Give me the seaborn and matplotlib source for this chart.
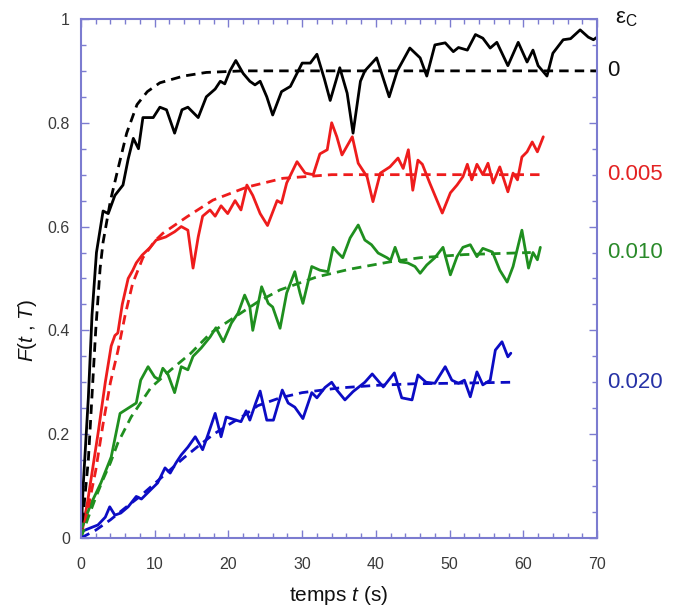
import numpy as np
import pandas as pd
import matplotlib
matplotlib.use("Agg")
import matplotlib.pyplot as plt
import seaborn as sns
from matplotlib.ticker import MultipleLocator

# ---------------- data ----------------
black_solid = [(0,0),(0.3,0.1),(1.0,0.27),(1.5,0.43),(2.1,0.55),(3.0,0.63),(3.7,0.625),(4.6,0.66),(5.7,0.68),
               (6.4,0.73),(7.1,0.77),(7.8,0.75),(8.4,0.81),(9.8,0.81),(10.7,0.83),(11.6,0.825),(12.7,0.78),
               (13.7,0.825),(14.5,0.83),(15.9,0.81),(17.0,0.85),(18.2,0.865),(18.9,0.88),(19.5,0.875),(20.2,0.90),
               (21.0,0.92),(22.0,0.895),(22.9,0.88),(23.6,0.873),(24.3,0.88),(25.2,0.85),(26.0,0.815),(27.2,0.86),
               (28.4,0.87),(30.0,0.915),(31.1,0.915),(32.0,0.932),(33.0,0.885),(33.8,0.843),(35.1,0.906),
               (36.1,0.857),(36.9,0.78),(37.9,0.88),(38.5,0.90),(40.1,0.925),(41.8,0.85),(42.9,0.90),(44.6,0.944),
               (46.0,0.925),(46.9,0.89),(48.0,0.95),(49.4,0.954),(50.5,0.937),(51.2,0.945),(52.4,0.94),(53.5,0.97),
               (54.5,0.963),(55.5,0.944),(56.4,0.955),(57.9,0.91),(59.3,0.955),(60.5,0.917),(61.3,0.94),(62.0,0.91),
               (63.2,0.89),(64.0,0.934),(65.4,0.96),(66.4,0.962),(67.7,0.979),(68.8,0.965),(69.5,0.96),(70.0,0.965)]
red_solid = [(0,0),(0.9,0.07),(2.3,0.2),(3.3,0.3),(4.1,0.37),(4.6,0.39),(5.0,0.395),(5.6,0.45),(6.4,0.50),
             (7.0,0.515),(7.5,0.53),(8.3,0.545),(9.4,0.56),(10.2,0.574),(11.5,0.58),(12.7,0.59),(13.6,0.60),
             (14.5,0.593),(15.2,0.52),(15.9,0.58),(16.5,0.62),(17.5,0.632),(18.2,0.62),(19.0,0.64),(19.9,0.625),
             (20.9,0.65),(21.7,0.632),(22.5,0.68),(23.3,0.66),(24.3,0.625),(25.3,0.602),(26.6,0.65),(27.2,0.645),
             (27.9,0.684),(29.3,0.725),(30.4,0.703),(31.5,0.70),(32.4,0.74),(33.4,0.748),(34.0,0.80),(34.7,0.773),
             (35.4,0.738),(36.8,0.773),(37.6,0.722),(38.8,0.696),(39.6,0.648),(40.6,0.703),(41.9,0.715),
             (43.0,0.732),(43.7,0.712),(44.4,0.748),(45.0,0.67),(45.7,0.728),(46.3,0.72),(47.3,0.684),(49.0,0.626),
             (50.1,0.665),(51.0,0.68),(51.8,0.696),(52.4,0.72),(53.0,0.69),(53.7,0.72),(54.5,0.70),(55.2,0.722),
             (55.9,0.684),(56.8,0.715),(57.9,0.667),(58.6,0.703),(59.2,0.69),(59.8,0.734),(60.5,0.744),
             (61.2,0.763),(61.9,0.744),(62.7,0.773)]
green_solid = [(0,0.015),(1.4,0.067),(2.7,0.106),(4.1,0.156),(5.3,0.24),(6.4,0.25),(7.5,0.26),(8.1,0.304),
               (9.1,0.33),(10.0,0.31),(10.6,0.305),(11.1,0.327),(11.8,0.315),(12.7,0.28),(13.6,0.33),(14.5,0.324),
               (15.2,0.35),(16.3,0.366),(17.5,0.387),(18.3,0.405),(19.3,0.378),(20.4,0.414),(21.3,0.433),
               (22.2,0.468),(22.9,0.445),(23.3,0.40),(24.5,0.484),(25.4,0.452),(26.0,0.445),(27.0,0.404),
               (27.9,0.472),(29.0,0.513),(29.7,0.472),(30.1,0.452),(31.3,0.523),(32.4,0.516),(33.5,0.513),
               (34.2,0.56),(34.8,0.55),(35.5,0.54),(36.5,0.578),(37.6,0.603),(38.5,0.574),(39.4,0.565),(40.3,0.549),
               (41.5,0.54),(42.0,0.535),(42.6,0.56),(43.3,0.532),(44.3,0.53),(45.3,0.523),(46.0,0.51),(46.9,0.526),
               (48.0,0.54),(49.1,0.56),(50.1,0.507),(51.0,0.542),(51.8,0.56),(52.8,0.565),(53.7,0.542),(54.5,0.558),
               (55.8,0.551),(56.8,0.516),(57.8,0.493),(58.6,0.523),(59.8,0.593),(60.5,0.536),(60.7,0.52),
               (61.3,0.55),(61.9,0.536),(62.3,0.56)]
blue_solid = [(0,0.012),(1.4,0.02),(2.3,0.025),(3.3,0.04),(3.9,0.06),(4.6,0.044),(5.4,0.048),(6.4,0.06),
              (7.5,0.08),(8.2,0.075),(9.4,0.092),(10.4,0.106),(11.4,0.135),(12.1,0.125),(12.9,0.145),(13.6,0.16),
              (14.5,0.175),(15.5,0.195),(16.5,0.17),(17.2,0.198),(18.2,0.24),(19.0,0.195),(19.7,0.233),
              (20.8,0.228),(21.7,0.224),(22.4,0.245),(22.9,0.227),(23.7,0.26),(24.3,0.283),(25.2,0.227),
              (26.1,0.227),(27.3,0.285),(28.1,0.26),(29.0,0.252),(30.1,0.23),(31.3,0.28),(32.0,0.27),(33.1,0.29),
              (34.0,0.30),(34.7,0.285),(35.8,0.266),(36.9,0.282),(38.5,0.30),(39.5,0.316),(41.0,0.291),
              (42.5,0.318),(43.5,0.27),(44.9,0.266),(45.7,0.314),(46.8,0.30),(48.0,0.298),(49.4,0.33),(50.3,0.304),
              (51.2,0.298),(52.0,0.304),(52.8,0.272),(53.7,0.32),(54.5,0.295),(55.5,0.304),(56.2,0.362),
              (57.1,0.378),(57.9,0.349),(58.3,0.356)]

black_fit = [(0,0),(1,0.15),(2,0.40),(2.6,0.52),(3,0.57),(4,0.65),(5,0.71),(6.2,0.78),(7.6,0.835),(9,0.86),
             (10.7,0.877),(13.9,0.89),(17,0.897),(22,0.9),(70,0.9)]
red_fit = [(0,0),(1,0.06),(2,0.13),(3,0.22),(4,0.30),(5,0.36),(6,0.43),(7,0.49),(8.4,0.54),(10,0.572),
           (11.1,0.587),(14.4,0.619),(17.9,0.651),(22.5,0.676),(27.4,0.693),(34,0.70),(62.7,0.70)]
green_fit = [(0,0),(1,0.04),(2,0.078),(3,0.113),(4,0.145),(5,0.183),(6.8,0.233),(9.5,0.29),(12.2,0.324),
             (14.9,0.356),(17.6,0.395),(20.9,0.426),(24,0.455),(27,0.478),(32,0.503),(36.5,0.518),(41.9,0.532),
             (46,0.54),(52,0.546),(61,0.55)]
blue_fit = [(0,0),(2,0.015),(4,0.035),(6,0.058),(8,0.08),(10,0.105),(12,0.13),(14,0.155),(16,0.178),(18,0.2),
            (20,0.218),(22,0.235),(24,0.255),(27,0.27),(30,0.28),(35,0.289),(40,0.294),(45,0.297),(50,0.298),
            (58.3,0.30)]

eps_labels = ["0", "0.005", "0.010", "0.020"]
eps_levels = [0.90, 0.70, 0.55, 0.30]
x_ticks = [0, 10, 20, 30, 40, 50, 60, 70]
y_ticks = [0, 0.2, 0.4, 0.6, 0.8, 1.0]
y_ticklabels = ["0", "0.2", "0.4", "0.6", "0.8", "1"]

# ---------------- style ----------------
sns.set_style("ticks")
plt.rcParams["font.family"] = ["Liberation Sans", "DejaVu Sans"]
plt.rcParams["mathtext.fontset"] = "custom"
plt.rcParams["mathtext.rm"] = "Liberation Sans"
plt.rcParams["mathtext.it"] = "Liberation Sans:italic"

line_colors = ["#000000", "#ee1c1c", "#1f8f1f", "#0c0cc4"]
label_colors = ["#111111", "#e32222", "#2a8a2a", "#2632a6"]
spine_color = "#7c7cd0"

fig = plt.figure(figsize=(6.77, 6.12), dpi=100)
ax = fig.add_axes([0.1196, 0.121, 0.7624, 0.848])

solids = [black_solid, red_solid, green_solid, blue_solid]
fits = [black_fit, red_fit, green_fit, blue_fit]
for pts, col in zip(solids, line_colors):
    df = pd.DataFrame(pts, columns=["t", "F"])
    sns.lineplot(data=df, x="t", y="F", ax=ax, color=col, linewidth=2.0,
                 sort=False, estimator=None, solid_joinstyle="round", solid_capstyle="round")
for pts, col in zip(fits, line_colors):
    df = pd.DataFrame(pts, columns=["t", "F"])
    sns.lineplot(data=df, x="t", y="F", ax=ax, color=col, linewidth=2.0,
                 sort=False, estimator=None, linestyle="--")
    ax.lines[-1].set_dashes((3.4, 2.2))

ax.set_xlim(0, 70)
ax.set_ylim(0, 1)
ax.set_xticks(x_ticks)
ax.set_yticks(y_ticks)
ax.set_yticklabels(y_ticklabels)
ax.xaxis.set_minor_locator(MultipleLocator(2))
ax.yaxis.set_minor_locator(MultipleLocator(0.05))
ax.tick_params(which="both", direction="in", top=True, right=True, color=spine_color,
               labelcolor="#3a3a3a", labelsize=11.5)
ax.tick_params(which="major", length=6, width=1.0)
ax.tick_params(which="minor", length=3.5, width=1.0)
ax.tick_params(axis="x", which="major", pad=14)
ax.tick_params(axis="y", which="major", pad=8)
for s in ax.spines.values():
    s.set_color(spine_color)
    s.set_linewidth(1.5)

ax.set_xlabel("temps $\\it{t}$ (s)", fontsize=15, color="#111111")
ax.set_ylabel("$\\it{F}$($\\it{t}$ , $\\it{T}$)", fontsize=15, color="#111111")
ax.xaxis.set_label_coords(0.5, -0.088)
ax.yaxis.set_label_coords(-0.082, 0.40)

ax.text(1.035, 1.0, "ε$_\\mathrm{C}$", transform=ax.transAxes, fontsize=16, color="#111111",
        ha="left", va="center")
for lab, lev, col in zip(eps_labels, eps_levels, label_colors):
    ax.text(1.02, lev, lab, transform=ax.get_yaxis_transform(), fontsize=16, color=col,
            ha="left", va="center")

fig.savefig("out.png", dpi=100)
